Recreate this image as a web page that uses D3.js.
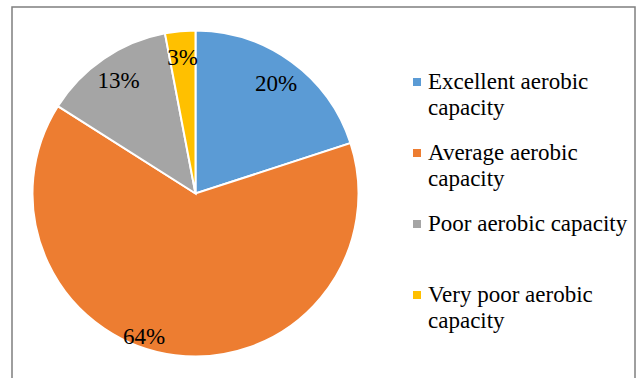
<!DOCTYPE html>
<html>
<head>
<meta charset="utf-8">
<script src="https://cdn.jsdelivr.net/npm/d3@7"></script>
<style>
  body { margin: 0; background: #fff; }
  text { font-family: "Liberation Serif", "Times New Roman", serif; }
</style>
</head>
<body>
<div id="chart"></div>
<script>
// data
var categories = ["Excellent aerobic capacity", "Average aerobic capacity", "Poor aerobic capacity", "Very poor aerobic capacity"];
var values = [20, 64, 13, 3];
var colors = ["#5b9bd5", "#ed7d31", "#a5a5a5", "#ffc000"];
// legend text broken into lines as in the picture
var legendLines = [["Excellent aerobic", "capacity"], ["Average aerobic", "capacity"], ["Poor aerobic capacity"], ["Very poor aerobic", "capacity"]];

var width = 644, height = 378;
var cx = 195.5, cy = 193.5, radius = 163;

var svg = d3.select("#chart")
  .append("svg")
    .attr("width", width)
    .attr("height", height);

svg.append("rect")
  .attr("x", 12).attr("y", 7)
  .attr("width", 623).attr("height", 380)
  .attr("fill", "#fff")
  .attr("stroke", "#7f7f7f")
  .attr("stroke-width", 1.5);

var data = categories.map(function(c, i) { return {name: c, value: values[i], color: colors[i]}; });

var pie = d3.pie().sort(null).value(d => d.value);
var arc = d3.arc().innerRadius(0).outerRadius(radius);
var labelArc = d3.arc().innerRadius(radius * 0.84).outerRadius(radius * 0.84);

var g = svg.append("g")
  .attr("transform", "translate(" + cx + "," + cy + ")");

var slices = pie(data);

g.selectAll(".slice")
  .data(slices)
  .enter()
  .append("path")
  .attr("class", "slice")
  .attr("d", arc)
  .attr("fill", d => d.data.color)
  .attr("stroke", "#fff")
  .attr("stroke-width", 2);

var total = d3.sum(values);
g.selectAll(".lbl")
  .data(slices)
  .enter()
  .append("text")
  .attr("class", "lbl")
  .attr("transform", function(d) {
    var p = labelArc.centroid(d);
    // the big slice label sits lower-left (best fit)
    if (d.index === 1) {
      var a = d.startAngle + (d.endAngle - d.startAngle) * 0.555, r = radius * 0.93;
      p = [Math.sin(a) * r, -Math.cos(a) * r];
    }
    return "translate(" + p[0] + "," + p[1] + ")";
  })
  .attr("text-anchor", "middle")
  .attr("dy", "0.35em")
  .attr("font-size", 23)
  .attr("fill", "#000")
  .text(d => Math.round(d.value / total * 100) + "%");

//// legend
var legendY = d3.scaleBand().domain(categories).range([61, 345]);

var legend = svg.selectAll(".legend")
  .data(data)
  .enter()
  .append("g")
  .attr("class", "legend")
  .attr("transform", d => "translate(413," + legendY(d.name) + ")");

legend.append("rect")
  .attr("x", 0).attr("y", 17)
  .attr("width", 8).attr("height", 8)
  .attr("fill", d => d.color);

legend.append("text")
  .attr("x", 15)
  .attr("y", 28)
  .attr("font-size", 23)
  .attr("fill", "#000")
  .selectAll("tspan")
  .data((d, i) => legendLines[i])
  .enter()
  .append("tspan")
  .attr("x", 15)
  .attr("dy", (d, i) => i === 0 ? 0 : 26)
  .text(d => d);
</script>
</body>
</html>
